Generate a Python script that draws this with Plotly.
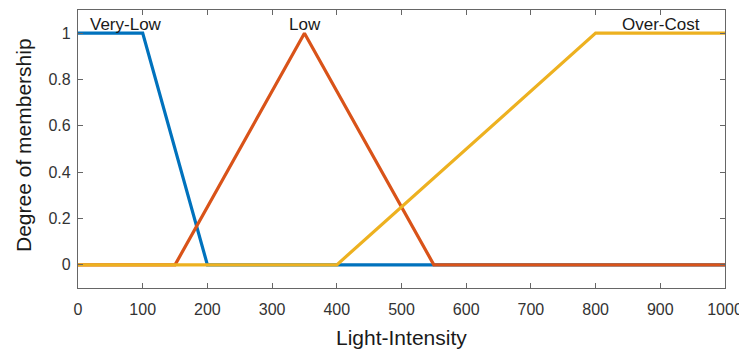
import plotly.graph_objects as go

x_very_low = [0, 100, 200, 1000]
y_very_low = [1, 1, 0, 0]
x_low = [0, 150, 350, 550, 1000]
y_low = [0, 0, 1, 0, 0]
x_over = [0, 400, 800, 1000]
y_over = [0, 0, 1, 1]

labels = ["Very-Low", "Low", "Over-Cost"]
label_x = [74, 351, 901]
label_y = [1.037, 1.037, 1.037]

x_ticks = list(range(0, 1001, 100))
y_ticks = [0, 0.2, 0.4, 0.6, 0.8, 1]
y_tick_text = ["0", "0.2", "0.4", "0.6", "0.8", "1"]

FONT = "Liberation Sans, Arial"

fig = go.Figure()
fig.add_trace(go.Scatter(x=x_very_low, y=y_very_low, mode="lines",
                         line=dict(color="#0072BD", width=3.2)))
fig.add_trace(go.Scatter(x=x_low, y=y_low, mode="lines",
                         line=dict(color="#D95319", width=3.2)))
fig.add_trace(go.Scatter(x=x_over, y=y_over, mode="lines",
                         line=dict(color="#EDB120", width=3.2)))

for t, xx, yy in zip(labels, label_x, label_y):
    fig.add_annotation(x=xx, y=yy, text=t, showarrow=False,
                       font=dict(family=FONT, size=17, color="#1a1a1a"),
                       xanchor="center", yanchor="middle")

# axis titles
fig.add_annotation(xref="paper", yref="paper", x=0.5, y=0, yshift=-49,
                   text="Light-Intensity", showarrow=False,
                   font=dict(family=FONT, size=21, color="#1a1a1a"),
                   xanchor="center", yanchor="middle")
fig.add_annotation(xref="paper", yref="paper", x=0, y=0.5, xshift=-55, yshift=4,
                   text="Degree of membership", showarrow=False, textangle=-90,
                   font=dict(family=FONT, size=21, color="#1a1a1a"),
                   xanchor="center", yanchor="middle")

axis_common = dict(showline=True, linecolor="#666666", linewidth=1.2, mirror="ticks",
                   ticks="inside", ticklen=5, tickcolor="#666666", showgrid=False,
                   zeroline=False, automargin=False,
                   tickfont=dict(family=FONT, size=16, color="#333333"))

fig.update_layout(
    width=739, height=344,
    margin=dict(l=70, r=22, t=2, b=64),
    plot_bgcolor="white", paper_bgcolor="white",
    showlegend=False,
    xaxis=dict(range=[0, 1000], tickvals=x_ticks, ticklabelstandoff=7, **axis_common),
    yaxis=dict(range=[-0.1, 1.1], tickvals=y_ticks, ticktext=y_tick_text,
               ticklabelstandoff=3, **axis_common),
)

fig.write_html("out.html")
